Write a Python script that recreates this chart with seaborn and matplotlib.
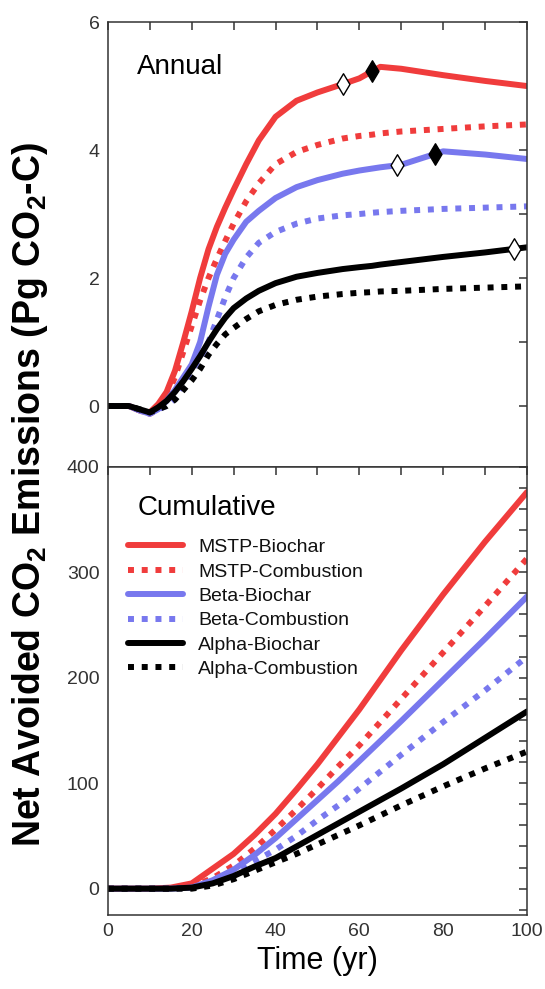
import matplotlib
matplotlib.use("Agg")
import matplotlib.pyplot as plt
from matplotlib.ticker import MultipleLocator
import seaborn as sns
import pandas as pd

sns.set_theme(style="white")
plt.rcParams["font.family"] = ["Liberation Sans", "DejaVu Sans"]
plt.rcParams["text.color"] = "black"
plt.rcParams["mathtext.fontset"] = "custom"
plt.rcParams["mathtext.rm"] = "Liberation Sans"
plt.rcParams["mathtext.bf"] = "Liberation Sans:bold"

# annual net avoided emissions (Pg CO2-C / yr)
t_ann = [0, 5, 8, 10, 12, 14, 16, 18, 20, 22, 24, 26, 28, 30, 33, 36, 40, 45, 50, 56, 60, 63, 65, 70, 80, 90, 100]
mstp_bio = [0, 0, -0.08, -0.1, 0.03, 0.22, 0.55, 1.0, 1.48, 2.0, 2.45, 2.8, 3.1, 3.38, 3.78, 4.15, 4.52, 4.77, 4.9, 5.03, 5.12, 5.23, 5.3, 5.27, 5.17, 5.08, 5.0]
mstp_comb = [0, 0, -0.08, -0.12, -0.05, 0.15, 0.45, 0.85, 1.25, 1.65, 2.0, 2.3, 2.58, 2.85, 3.2, 3.48, 3.78, 3.97, 4.08, 4.18, 4.22, 4.24, 4.26, 4.29, 4.33, 4.37, 4.4]
beta_bio = [0, 0, -0.08, -0.12, -0.05, 0.08, 0.25, 0.45, 0.65, 1.0, 1.55, 2.05, 2.38, 2.6, 2.88, 3.05, 3.25, 3.42, 3.53, 3.63, 3.68, 3.71, 3.73, 3.77, 3.98, 3.93, 3.86]
beta_comb = [0, 0, -0.08, -0.12, -0.05, 0.0, 0.12, 0.35, 0.55, 0.75, 1.0, 1.35, 1.7, 2.0, 2.32, 2.55, 2.72, 2.85, 2.93, 2.98, 3.0, 3.02, 3.03, 3.05, 3.08, 3.1, 3.12]
alpha_bio = [0, 0, -0.06, -0.1, -0.02, 0.08, 0.22, 0.39, 0.58, 0.78, 1.0, 1.2, 1.38, 1.53, 1.68, 1.8, 1.92, 2.02, 2.08, 2.14, 2.17, 2.19, 2.21, 2.25, 2.33, 2.4, 2.48]
alpha_comb = [0, 0, -0.06, -0.1, -0.05, 0.0, 0.1, 0.25, 0.4, 0.58, 0.8, 0.97, 1.12, 1.22, 1.36, 1.48, 1.58, 1.66, 1.71, 1.75, 1.77, 1.78, 1.79, 1.8, 1.83, 1.85, 1.87]

# diamonds on the annual biochar curves
open_t = [56, 69, 97]
open_v = [5.03, 3.76, 2.46]
filled_t = [63, 78]
filled_v = [5.23, 3.94]

# cumulative net avoided emissions (Pg CO2-C)
t_cum = [0, 10, 15, 20, 25, 30, 35, 40, 45, 50, 55, 60, 70, 80, 90, 100]
mstp_bio_c = [0, 0, 1, 5, 19, 33, 51, 71, 94, 118, 144, 170, 226, 279, 329, 376]
mstp_comb_c = [0, 0, 0, 2, 10, 22, 38, 56, 75, 95, 116, 136, 180, 224, 268, 313]
beta_bio_c = [0, 0, 0, 1, 8, 18, 32, 48, 66, 84, 102, 121, 159, 198, 237, 277]
beta_comb_c = [0, 0, 0, 1, 6, 14, 26, 37, 50, 65, 79, 95, 127, 158, 188, 220]
alpha_bio_c = [0, 0, 0, 1, 5, 12, 21, 29, 40, 51, 62, 73, 95, 118, 143, 168]
alpha_comb_c = [0, 0, 0, 0, 3, 9, 17, 25, 33, 42, 51, 60, 79, 97, 114, 130]

names = ["MSTP-Biochar", "MSTP-Combustion", "Beta-Biochar",
         "Beta-Combustion", "Alpha-Biochar", "Alpha-Combustion"]
annual = [mstp_bio, mstp_comb, beta_bio, beta_comb, alpha_bio, alpha_comb]
cumul = [mstp_bio_c, mstp_comb_c, beta_bio_c, beta_comb_c, alpha_bio_c, alpha_comb_c]

red = "#F03C3C"
blue = "#7878EE"
colors = [red, red, blue, blue, "black", "black"]
styles = ["-", (0, (1, 1.3)), "-", (0, (1, 1.3)), "-", (0, (1, 1.3))]

fig = plt.figure(figsize=(5.45, 9.89), dpi=100)
ax1 = fig.add_axes([0.198, 0.528, 0.769, 0.4497])
ax2 = fig.add_axes([0.198, 0.0748, 0.769, 0.4532])

for name, ya, yc, c, ls in zip(names, annual, cumul, colors, styles):
    da = pd.DataFrame({"t": t_ann, "v": ya})
    dc = pd.DataFrame({"t": t_cum, "v": yc})
    sns.lineplot(data=da, x="t", y="v", ax=ax1, color=c, linestyle=ls,
                 linewidth=4.3, dash_capstyle="butt")
    sns.lineplot(data=dc, x="t", y="v", ax=ax2, color=c, linestyle=ls,
                 linewidth=4.3, dash_capstyle="butt", label=name)

sns.scatterplot(x=open_t, y=open_v, ax=ax1, marker="d", s=120,
                facecolor="white", edgecolor="black", linewidth=1.0, zorder=5)
sns.scatterplot(x=filled_t, y=filled_v, ax=ax1, marker="d", s=120,
                color="black", edgecolor="black", linewidth=1.0, zorder=5)

ax1.set_ylim(-0.95, 6)
ax2.set_ylim(-25, 400)
for ax in (ax1, ax2):
    ax.set_xlim(0, 100)
    ax.xaxis.set_major_locator(MultipleLocator(20))
    ax.xaxis.set_minor_locator(MultipleLocator(10))
    ax.tick_params(which="both", direction="in", top=True, right=True,
                   length=6, width=1.1, color="#333333",
                   labelsize=14, labelcolor="#333333", pad=6)
    for sp in ax.spines.values():
        sp.set_linewidth(1.1)
        sp.set_color("#333333")
    ax.set_xlabel("")
    ax.set_ylabel("")
ax1.yaxis.set_major_locator(MultipleLocator(2))
ax1.yaxis.set_minor_locator(MultipleLocator(1))
ax1.tick_params(labelbottom=False)
ax2.yaxis.set_major_locator(MultipleLocator(100))
ax2.yaxis.set_minor_locator(MultipleLocator(20))

ax1.text(0.069, 0.899, "Annual", transform=ax1.transAxes, fontsize=20,
         va="center", ha="left", color="black")
ax2.text(0.072, 0.908, "Cumulative", transform=ax2.transAxes, fontsize=20,
         va="center", ha="left", color="black")

leg = ax2.legend(loc="upper left", bbox_to_anchor=(0.048, 0.84), frameon=False,
                 fontsize=14, handlelength=2.85, handletextpad=0.75,
                 labelspacing=0.35, borderpad=0, borderaxespad=0)
for txt in leg.get_texts():
    txt.set_color("#111111")

ax2.set_xlabel("Time (yr)", fontsize=22, labelpad=4, color="black")
fig.text(0.055, 0.5, r"Net Avoided CO$_\mathbf{2}$ Emissions (Pg CO$_\mathbf{2}$-C)",
         rotation=90, ha="center", va="center", fontsize=27, fontweight="bold",
         color="black")

fig.savefig("out.png", dpi=100)
